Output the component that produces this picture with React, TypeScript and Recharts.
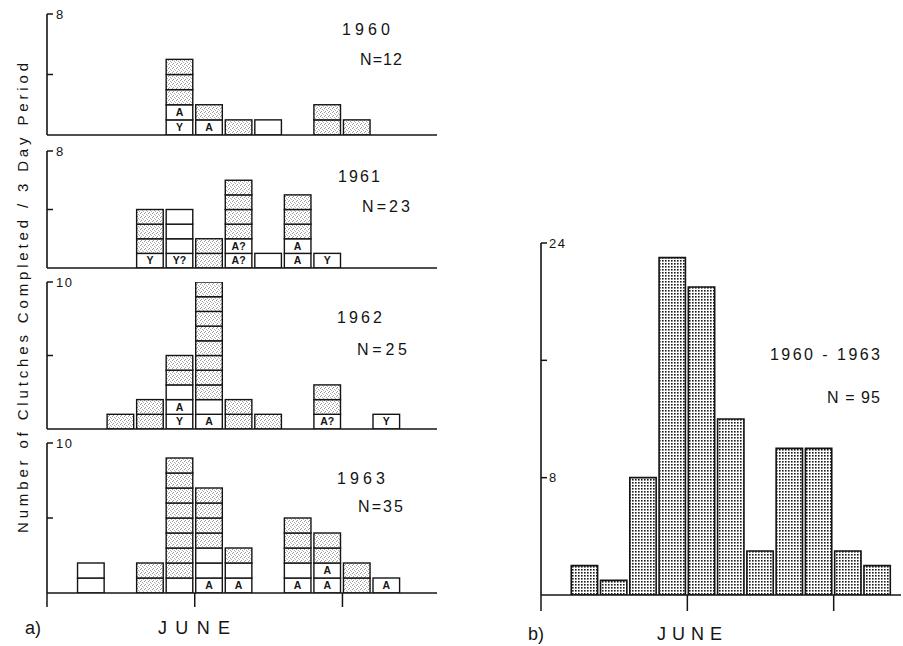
import React from "react";
import { BarChart, Bar, XAxis, YAxis } from "recharts";

// Three-day periods, indexed from the first period plotted; period 4 starts June 1, period 9 starts June 16.
const BINS = [0, 1, 2, 3, 4, 5, 6, 7, 8, 9, 10];
const DATE_TICKS = [-1, 4, 9];

// One entry per clutch, stacked from the bottom of each period:
// "s" = stippled, "w" = open, other codes are printed inside an open box.
const CLUTCHES_1960: string[][] = [
  [], [], [],
  ["Y", "A", "s", "s", "s"],
  ["A", "s"],
  ["s"],
  ["w"],
  [],
  ["s", "s"],
  ["s"],
  [],
];
const CLUTCHES_1961: string[][] = [
  [], [],
  ["Y", "s", "s", "s"],
  ["Y?", "w", "w", "w"],
  ["s", "s"],
  ["A?", "A?", "s", "s", "s", "s"],
  ["w"],
  ["A", "A", "s", "s", "s"],
  ["Y"],
  [], [],
];
const CLUTCHES_1962: string[][] = [
  [],
  ["s"],
  ["s", "s"],
  ["Y", "A", "w", "s", "s"],
  ["A", "w", "s", "s", "s", "s", "s", "s", "s", "s"],
  ["s", "s"],
  ["s"],
  [],
  ["A?", "s", "s"],
  [],
  ["Y"],
];
const CLUTCHES_1963: string[][] = [
  ["w", "w"],
  [],
  ["s", "s"],
  ["w", "s", "s", "s", "s", "s", "s", "s", "s"],
  ["A", "w", "w", "s", "s", "s", "s"],
  ["A", "w", "s"],
  [],
  ["A", "w", "s", "s", "s"],
  ["A", "A", "s", "s"],
  ["s", "s"],
  ["A"],
];
const TOTALS_1960_1963 = [2, 1, 8, 23, 21, 12, 3, 10, 10, 3, 2];

const YEARS = ["1960", "1961", "1962", "1963"];
const YEAR_N = ["N=12", "N=23", "N=25", "N=35"];
const YEAR_MAX = [8, 8, 10, 10];
const YEAR_MID_TICK = [4, 4, 5, 5];
const YEAR_CLUTCHES = [CLUTCHES_1960, CLUTCHES_1961, CLUTCHES_1962, CLUTCHES_1963];

const INK = "#141414";
const FONT = "'Liberation Sans', Arial, sans-serif";

// layout of the four stacked panels (plot top / bottom in page px)
const PANEL_BOUNDS = [
  [14, 135],
  [151, 268],
  [282, 429],
  [443, 593],
];
const LEFT_PLOT_X0 = 47;
const LEFT_PLOT_X1 = 437;
const LEFT_DOMAIN: [number, number] = [-1, 12.2];
const RIGHT_PLOT_X0 = 541;
const RIGHT_PLOT_X1 = 901;
const RIGHT_DOMAIN: [number, number] = [-1, 11.3];

const noLabel = () => "";

// y tick text: only the listed values get a number
const countTick = (shown: number[]) => (p: any) => {
  const v = p?.payload?.value;
  if (!shown.includes(v)) return <g />;
  return (
    <text
      x={p.x}
      y={p.y}
      dy="0.36em"
      textAnchor="start"
      fontSize={13}
      letterSpacing={1.5}
      fontFamily={FONT}
      fill={INK}
    >
      {String(v)}
    </text>
  );
};

const makeBox = (layer: number) => (props: any) => {
  const { x, y, width, height, payload } = props;
  const code: string | undefined = payload?.boxes?.[layer];
  if (!code || !height) return <g />;
  const stippled = code === "s";
  const label = stippled || code === "w" ? "" : code;
  return (
    <g>
      <rect
        x={x}
        y={y}
        width={width}
        height={height}
        fill={stippled ? "url(#stippleLight)" : "#fff"}
        stroke={INK}
        strokeWidth={1.4}
      />
      {label ? (
        <text
          x={x + width / 2}
          y={y + height / 2}
          dy="0.36em"
          textAnchor="middle"
          fontSize={10.5}
          fontWeight="bold"
          fontFamily={FONT}
          fill={INK}
        >
          {label}
        </text>
      ) : null}
    </g>
  );
};

function YearPanel({ index }: { index: number }) {
  const boxes = YEAR_CLUTCHES[index];
  const yMax = YEAR_MAX[index];
  const [top, bottom] = PANEL_BOUNDS[index];
  const withDates = index === YEARS.length - 1;
  const layers = Math.max(...boxes.map((c) => c.length));
  const data = BINS.map((b, i) => {
    const row: Record<string, any> = { x: b + 0.5, boxes: boxes[i] };
    for (let k = 0; k < layers; k++) row[`l${k}`] = boxes[i].length > k ? 1 : 0;
    return row;
  });
  const mt = 10;
  const xh = withDates ? 22 : 1;
  const chartW = 460;
  const binPx = (LEFT_PLOT_X1 - LEFT_PLOT_X0) / (LEFT_DOMAIN[1] - LEFT_DOMAIN[0]);
  return (
    <div style={{ position: "absolute", left: 0, top: top - mt }}>
      <BarChart
        width={chartW}
        height={bottom - top + mt + xh}
        data={data}
        margin={{ top: mt, right: chartW - LEFT_PLOT_X1, bottom: 0, left: LEFT_PLOT_X0 }}
        barSize={binPx}
        barGap={0}
      >
        <XAxis
          type="number"
          dataKey="x"
          domain={LEFT_DOMAIN}
          allowDataOverflow
          ticks={withDates ? DATE_TICKS : []}
          interval={0}
          height={xh}
          tickFormatter={noLabel}
          tickLine={withDates ? { stroke: INK, strokeWidth: 1.5 } : false}
          tickSize={14}
          axisLine={{ stroke: INK, strokeWidth: 1.6 }}
        />
        <YAxis
          type="number"
          domain={[0, yMax]}
          allowDataOverflow
          ticks={[YEAR_MID_TICK[index], yMax]}
          interval={0}
          mirror
          tickSize={6}
          tickMargin={3}
          tick={countTick([yMax])}
          tickLine={{ stroke: INK, strokeWidth: 1.5 }}
          axisLine={{ stroke: INK, strokeWidth: 1.6 }}
        />
        {Array.from({ length: layers }, (_, k) => (
          <Bar
            key={k}
            dataKey={`l${k}`}
            stackId="clutches"
            isAnimationActive={false}
            shape={makeBox(k)}
          />
        ))}
      </BarChart>
    </div>
  );
}

function CombinedPanel() {
  const data = BINS.map((b, i) => ({ x: b + 0.5, total: TOTALS_1960_1963[i] }));
  const top = 243;
  const bottom = 595;
  const mt = 10;
  const xh = 22;
  const left = 500;
  const chartW = 903 - left;
  const binPx = (RIGHT_PLOT_X1 - RIGHT_PLOT_X0) / (RIGHT_DOMAIN[1] - RIGHT_DOMAIN[0]);
  return (
    <div style={{ position: "absolute", left, top: top - mt }}>
      <BarChart
        width={chartW}
        height={bottom - top + mt + xh}
        data={data}
        margin={{ top: mt, right: left + chartW - RIGHT_PLOT_X1, bottom: 0, left: RIGHT_PLOT_X0 - left }}
        barSize={binPx}
      >
        <XAxis
          type="number"
          dataKey="x"
          domain={RIGHT_DOMAIN}
          allowDataOverflow
          ticks={DATE_TICKS}
          interval={0}
          height={xh}
          tickFormatter={noLabel}
          tickLine={{ stroke: INK, strokeWidth: 1.5 }}
          tickSize={16}
          axisLine={{ stroke: INK, strokeWidth: 1.6 }}
        />
        <YAxis
          type="number"
          domain={[0, 24]}
          allowDataOverflow
          ticks={[8, 16, 24]}
          interval={0}
          mirror
          tickSize={6}
          tickMargin={2}
          tick={countTick([8, 24])}
          tickLine={{ stroke: INK, strokeWidth: 1.5 }}
          axisLine={{ stroke: INK, strokeWidth: 1.6 }}
        />
        <Bar
          dataKey="total"
          isAnimationActive={false}
          fill="url(#stippleDark)"
          stroke={INK}
          strokeWidth={1.6}
        />
      </BarChart>
    </div>
  );
}

// caption anchors: [x, baseline y, text width]
const YEAR_TEXT_POS = [
  [342, 35, 48],
  [338, 182, 42],
  [337, 323, 45],
  [337, 484, 48],
];
const N_TEXT_POS = [
  [360, 65, 42],
  [362, 212, 48],
  [357, 355, 50],
  [358, 512, 45],
];

export default function App() {
  const cap = { fontFamily: FONT, fill: INK, lengthAdjust: "spacing" as const };
  return (
    <div
      style={{
        position: "absolute",
        left: 0,
        top: 0,
        width: 903,
        height: 646,
        background: "#fff",
        overflow: "hidden",
      }}
    >
      <svg
        width={903}
        height={646}
        style={{ position: "absolute", left: 0, top: 0, pointerEvents: "none" }}
      >
        <defs>
          <pattern id="stippleLight" width={4} height={4} patternUnits="userSpaceOnUse">
            <rect width={4} height={4} fill="#fff" />
            <rect x={0} y={0} width={1} height={1} fill="#999" />
            <rect x={2} y={1} width={1} height={1} fill="#aaa" />
            <rect x={1} y={3} width={1} height={1} fill="#999" />
            <rect x={3} y={2} width={1} height={1} fill="#b4b4b4" />
          </pattern>
          <pattern id="stippleDark" width={3} height={3} patternUnits="userSpaceOnUse">
            <rect width={3} height={3} fill="#fff" />
            <rect x={0} y={0} width={1.6} height={1.6} fill="#1a1a1a" />
          </pattern>
        </defs>
        {YEARS.map((yr, i) => (
          <text key={yr} x={YEAR_TEXT_POS[i][0]} y={YEAR_TEXT_POS[i][1]} fontSize={16} textLength={YEAR_TEXT_POS[i][2]} {...cap}>
            {yr}
          </text>
        ))}
        {YEAR_N.map((n, i) => (
          <text key={n} x={N_TEXT_POS[i][0]} y={N_TEXT_POS[i][1]} fontSize={16} textLength={N_TEXT_POS[i][2]} {...cap}>
            {n}
          </text>
        ))}
        <text x={770} y={360} fontSize={16} textLength={110} {...cap}>
          1960 - 1963
        </text>
        <text x={827} y={403} fontSize={16} textLength={53} {...cap}>
          N = 95
        </text>
        <text
          transform="translate(28,298) rotate(-90)"
          textAnchor="middle"
          fontSize={15}
          textLength={470}
          {...cap}
        >
          Number of Clutches Completed / 3 Day Period
        </text>
        <text x={25} y={634} fontSize={18} {...cap}>
          a)
        </text>
        <text x={158} y={634} fontSize={18} textLength={72} {...cap}>
          JUNE
        </text>
        <text x={528} y={640} fontSize={18} {...cap}>
          b)
        </text>
        <text x={657} y={640} fontSize={18} textLength={65} {...cap}>
          JUNE
        </text>
      </svg>
      {YEARS.map((yr, i) => (
        <YearPanel key={yr} index={i} />
      ))}
      <CombinedPanel />
    </div>
  );
}
